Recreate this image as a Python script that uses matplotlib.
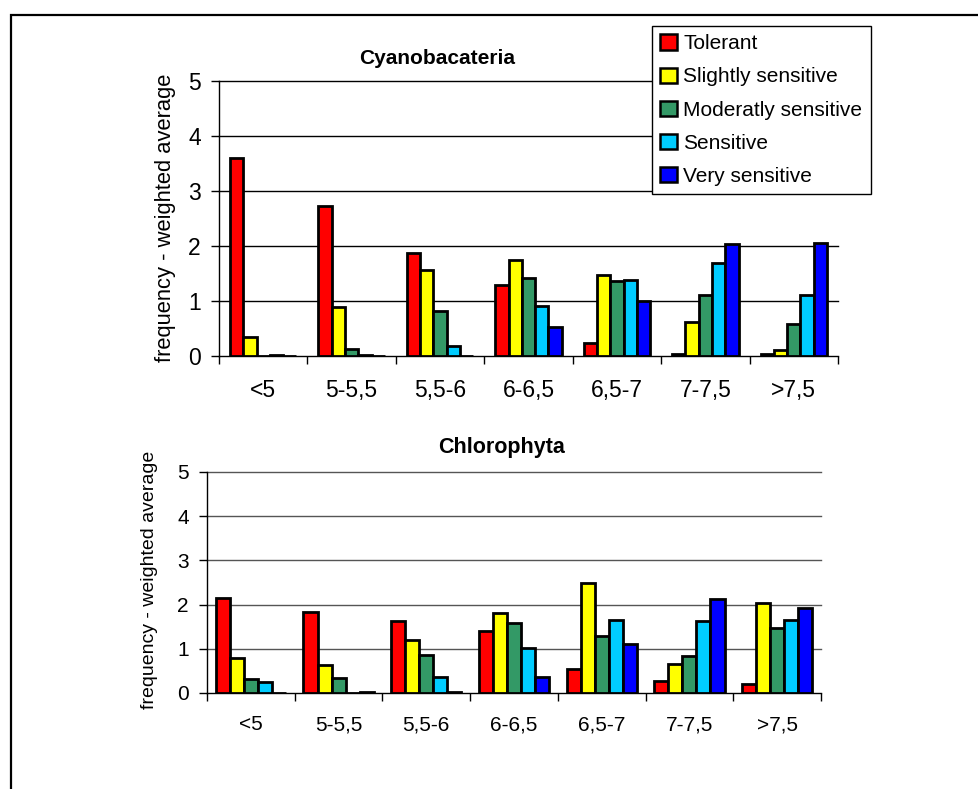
import numpy as np
import matplotlib.pyplot as plt
from matplotlib.patches import Patch, Rectangle

plt.rcParams['font.family'] = ['Liberation Sans', 'DejaVu Sans']

ranges = ['<5', '5-5,5', '5,5-6', '6-6,5', '6,5-7', '7-7,5', '>7,5']
classes = ['Tolerant', 'Slightly sensitive', 'Moderatly sensitive',
           'Sensitive', 'Very sensitive']
colors = ['#FF0000', '#FFFF00', '#339966', '#00CCFF', '#0000FF']

# weighted average frequency per pH range, one list per tolerance class
cyano_tolerant = [3.60, 2.73, 1.88, 1.29, 0.25, 0.05, 0.04]
cyano_slightly = [0.36, 0.90, 1.57, 1.75, 1.47, 0.63, 0.12]
cyano_moderate = [0.00, 0.13, 0.83, 1.42, 1.37, 1.12, 0.59]
cyano_sensitive = [0.02, 0.02, 0.19, 0.92, 1.38, 1.69, 1.12]
cyano_very = [0.00, 0.00, 0.00, 0.54, 1.01, 2.04, 2.05]

chloro_tolerant = [2.16, 1.83, 1.62, 1.40, 0.54, 0.28, 0.20]
chloro_slightly = [0.79, 0.63, 1.19, 1.80, 2.48, 0.66, 2.03]
chloro_moderate = [0.31, 0.34, 0.85, 1.58, 1.30, 0.83, 1.48]
chloro_sensitive = [0.26, 0.00, 0.37, 1.02, 1.65, 1.64, 1.66]
chloro_very = [0.00, 0.02, 0.03, 0.36, 1.11, 2.12, 1.93]

W, H = 979, 789


def draw_panel(ax, series, bar_w, grid_color, fs):
    """Grouped bars for one algal group on a 0-5 scale."""
    x = np.arange(len(ranges))
    n = len(series)
    for i, vals in enumerate(series):
        off = (i - (n - 1) / 2) * bar_w
        ax.bar(x + off, vals, bar_w, color=colors[i], edgecolor='black',
               linewidth=2.0, zorder=3)
    ax.set_xlim(-0.5, len(ranges) - 0.5)
    ax.set_ylim(0, 5)
    for y in range(1, 6):
        ax.axhline(y, color=grid_color, linewidth=1.0, zorder=1,
                   clip_on=False)
    ax.set_yticks(range(6))
    ax.set_xticks(x)
    ax.set_xticklabels(ranges, fontsize=fs)
    ax.set_xticks(np.arange(len(ranges) + 1) - 0.5, minor=True)
    ax.tick_params(axis='x', which='major', length=0, pad=16)
    ax.tick_params(axis='x', which='minor', length=6, width=1,
                   direction='out')
    ax.tick_params(axis='y', length=6, width=1, pad=7, labelsize=fs)
    for s in ['top', 'right']:
        ax.spines[s].set_visible(False)
    ax.spines['left'].set_linewidth(1)
    ax.spines['bottom'].set_linewidth(1)


fig = plt.figure(figsize=(W / 100, H / 100), dpi=100)

ax1 = fig.add_axes([219 / W, 1 - 356.5 / H, 619 / W, 275.8 / H])
draw_panel(ax1, [cyano_tolerant, cyano_slightly, cyano_moderate,
                 cyano_sensitive, cyano_very], 0.15, 'black', 16.5)

ax2 = fig.add_axes([207 / W, 1 - 693 / H, 614 / W, 221 / H])
draw_panel(ax2, [chloro_tolerant, chloro_slightly, chloro_moderate,
                 chloro_sensitive, chloro_very], 0.16, '#555555', 15)

fig.text(437 / W, 1 - 58 / H, 'Cyanobacateria', fontsize=15,
         fontweight='bold', ha='center', va='center')
fig.text(502 / W, 1 - 448 / H, 'Chlorophyta', fontsize=15.5,
         fontweight='bold', ha='center', va='center')
fig.text(166 / W, 1 - 218 / H, 'frequency - weighted average',
         fontsize=15.8, rotation=90, ha='center', va='center')
fig.text(150 / W, 1 - 580 / H, 'frequency - weighted average',
         fontsize=14, rotation=90, ha='center', va='center')

handles = [Patch(facecolor=c, edgecolor='black', linewidth=1.8)
           for c in colors]
leg = fig.legend(handles, classes, loc='upper left',
                 bbox_to_anchor=(652 / W, 1 - 26 / H), borderaxespad=0,
                 fontsize=15, frameon=True, fancybox=False, framealpha=1,
                 handlelength=0.8, handleheight=0.75, handletextpad=0.3,
                 labelspacing=0.68, borderpad=0.4)
leg.get_frame().set_edgecolor('black')
leg.get_frame().set_linewidth(1)
leg.set_zorder(10)

# outer frame around the whole chart area
fig.add_artist(Rectangle((11 / W, -0.05), 1.2, 1 - 15 / H + 0.05,
                         transform=fig.transFigure, fill=False,
                         edgecolor='black', linewidth=1.6))

fig.savefig('out.png', dpi=100)
